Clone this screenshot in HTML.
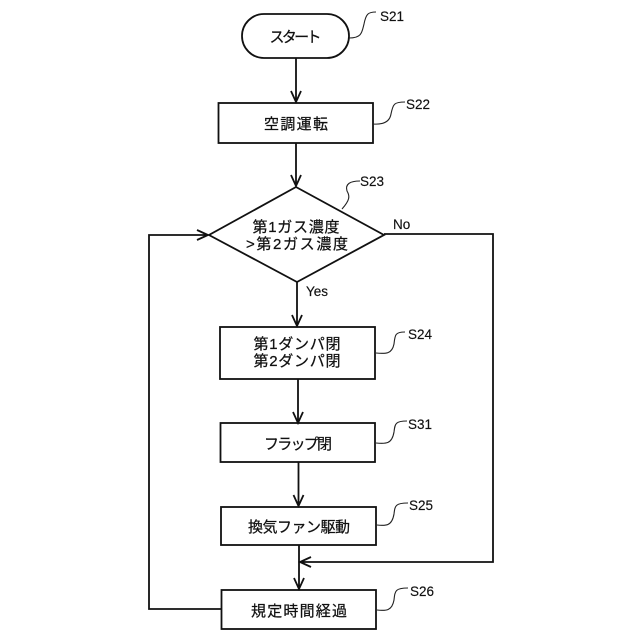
<!DOCTYPE html>
<html><head><meta charset="utf-8"><style>
html,body{margin:0;padding:0;background:#fff}
svg{display:block}
text{font-family:"Liberation Sans","Noto Sans CJK JP",sans-serif;fill:#111}
.j{font-size:15px;text-anchor:middle;stroke:#111;stroke-width:.25}
.l{font-size:13.500px;stroke:#111;stroke-width:.15}
.s{fill:none;stroke:#111;stroke-width:1.800}
.t{fill:none;stroke:#222;stroke-width:1.100}
</style></head><body>
<svg width="640" height="640" viewBox="0 0 640 640" xmlns="http://www.w3.org/2000/svg">
<rect class="s" x="242" y="14" width="107" height="44" rx="22" ry="22"/>
<rect class="s" x="218.500" y="103" width="154.500" height="40"/>
<polygon class="s" points="296,187 384,235 297,282 209,235"/>
<rect class="s" x="220" y="327" width="155" height="52"/>
<rect class="s" x="220.500" y="423" width="154.500" height="39"/>
<rect class="s" x="221" y="507" width="155" height="38"/>
<rect class="s" x="221.500" y="590" width="154.500" height="39"/>

<path class="s" d="M296 58V102M291 91L296 102L301 91"/>
<path class="s" d="M296 143V186M291 175L296 186L301 175"/>
<path class="s" d="M297 282V326M292 315L297 326L302 315"/>
<path class="s" d="M298 379V423M293 412L298 423L303 412"/>
<path class="s" d="M298.500 462V506M293.500 495L298.500 506L303.500 495"/>
<path class="s" d="M299 545V589M294 578L299 589L304 578"/>
<path class="s" d="M221 609H149V235H208M197 230L208 235L197 240"/>
<path class="s" d="M384 234H493V562H300M311 557L300 562L311 567"/>

<path class="t" d="M349 38C362 38 362 32 364 24C366 14 368 12 376 12"/>
<path class="t" d="M373 124C386 125 390 120 391 114C393 104 394 102 405 102"/>
<path class="t" d="M342 209C350 200 350 196 347 191C345 184 350 181 360 181"/>
<path class="t" d="M376 353C386 354 392 354 394 344C395 335 395 332 405 332"/>
<path class="t" d="M376 443C386 444 392 444 394 432C395 424 395 421 407 421"/>
<path class="t" d="M377 525C386 526 392 526 394 514C395 506 395 503 408 503"/>
<path class="t" d="M377 610C386 611 392 611 394 600C395 591 395 588 408 588"/>

<text class="j" x="295.500" y="42" textLength="52" lengthAdjust="spacing">スタート</text>
<text class="j" x="296" y="129" textLength="64" lengthAdjust="spacing">空調運転</text>
<text class="j" x="296" y="232" textLength="87" lengthAdjust="spacing">第1ガス濃度</text>
<text class="j" x="297" y="249" textLength="102" lengthAdjust="spacing">&gt;第2ガス濃度</text>
<text class="j" x="297" y="349" textLength="87" lengthAdjust="spacing">第1ダンパ閉</text>
<text class="j" x="297" y="366" textLength="87" lengthAdjust="spacing">第2ダンパ閉</text>
<text class="j" x="298" y="449" textLength="68" lengthAdjust="spacing">フラップ閉</text>
<text class="j" x="299" y="532" textLength="102" lengthAdjust="spacing">換気ファン駆動</text>
<text class="j" x="299" y="616" textLength="96" lengthAdjust="spacing">規定時間経過</text>

<text class="l" x="380" y="21">S21</text>
<text class="l" x="406" y="109">S22</text>
<text class="l" x="360" y="186">S23</text>
<text class="l" x="408" y="339">S24</text>
<text class="l" x="408" y="429">S31</text>
<text class="l" x="409" y="510">S25</text>
<text class="l" x="410" y="596">S26</text>
<text class="l" x="393" y="229">No</text>
<text class="l" x="306" y="296">Yes</text>
</svg>
</body></html>
